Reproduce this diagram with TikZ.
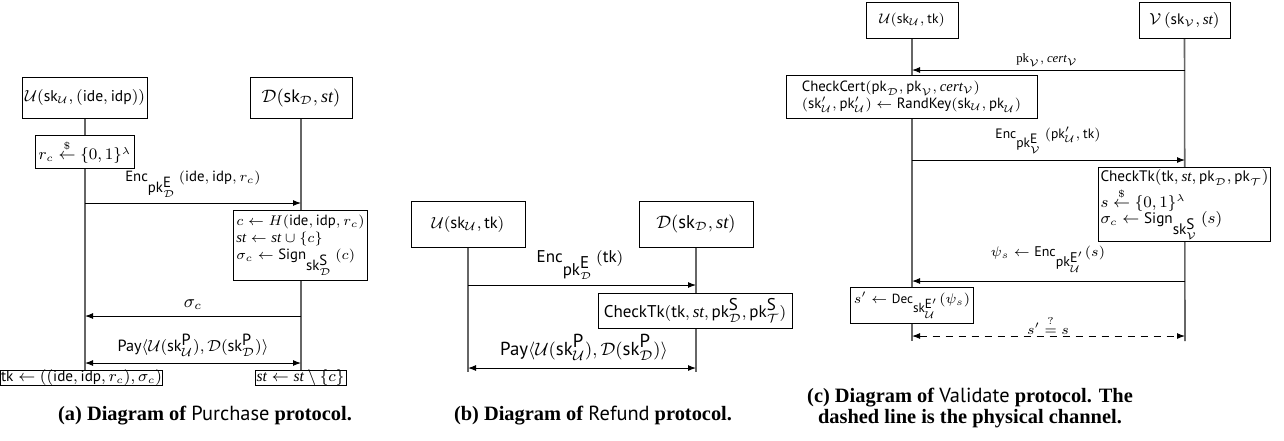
\documentclass[tikz,border=0pt]{standalone}
\usepackage{fontspec}
\setmainfont{Liberation Serif}
\setsansfont{PT Sans}
\usetikzlibrary{arrows.meta,backgrounds}
\newcommand{\sfm}[1]{\textsf{#1}}
\newcommand{\cU}{\mathcal{U}}
\newcommand{\cD}{\mathcal{D}}
\newcommand{\cV}{\mathcal{V}}
\newcommand{\cT}{\mathcal{T}}
\newcommand{\fs}[2]{\fontsize{#1}{#2}\selectfont}
\tikzset{
  actor/.style={draw, line width=0.5pt, fill=white, inner sep=1pt},
  proc/.style={draw, line width=0.5pt, fill=white, align=left, inner sep=1.5pt},
  lifeline/.style={draw=black!60, line width=0.8pt},
  msg/.style={-{Latex[length=4pt,width=3pt]}, line width=0.5pt},
  dmsg/.style={{Latex[length=4pt,width=3pt]}-{Latex[length=4pt,width=3pt]}, line width=0.5pt},
  lab/.style={inner sep=0pt},
  captext/.style={font=\fs{10.2}{10.6}, align=center, inner sep=0pt}
}
\begin{document}
\begin{tikzpicture}[x=0.5pt,y=-0.5pt]
\useasboundingbox (0,0) rectangle (1284,440);
% ---------------- (a) ----------------
\node[actor,font=\fs{7.8}{9},minimum width=62pt,minimum height=20.5pt] (aU) at (85,97.5) {$\cU(\sfm{sk}_{\cU}, (\sfm{ide}, \sfm{idp}))$};
\node[actor,font=\fs{9}{10},minimum width=51pt,minimum height=20.5pt] (aD) at (301,97.5) {$\cD(\sfm{sk}_{\cD}, \textit{st})$};
\node[proc,font=\fs{7.8}{9},minimum width=48pt,minimum height=16.5pt,align=center] (aR) at (85,152) {$r_c \stackrel{\$}{\leftarrow} \{0,1\}^{\lambda}$};
\node[proc,font=\fs{7.4}{8.5},minimum width=66.5pt,minimum height=35pt] (aC) at (300.5,245) {$c \leftarrow H(\sfm{ide}, \sfm{idp}, r_c)$\\$\textit{st} \leftarrow \textit{st} \cup \{c\}$\\$\sigma_c \leftarrow \sfm{Sign}_{\sfm{sk}^{\sfm{S}}_{\cD}}\,(c)$};
\node[proc,font=\fs{7.6}{9},minimum width=80.5pt,text height=5.2pt,text depth=1.5pt,inner sep=0.2pt] (aT) at (81.5,378) {$\sfm{tk} \leftarrow ((\sfm{ide}, \sfm{idp}, r_c), \sigma_c)$};
\node[proc,font=\fs{7.8}{9},minimum width=45.5pt,text height=5.2pt,text depth=1.5pt,inner sep=0.2pt] (aS) at (300.5,378) {$\textit{st} \leftarrow \textit{st} \setminus \{c\}$};
\coordinate (aU1) at (85,203); \coordinate (aD1) at (301,203);
\coordinate (aU2) at (85,316); \coordinate (aD2) at (301,316);
\coordinate (aU3) at (85,363); \coordinate (aD3) at (301,363);
\begin{scope}[on background layer]
\draw[lifeline] (aU.south) -- (aR.north);
\draw[lifeline] (aR.south) -- (aU.south |- aT.north);
\draw[lifeline] (aD.south) -- (aD.south |- aS.north);
\end{scope}
\node[lab,font=\fs{7.4}{9}] (aL1) at (193,184) {$\sfm{Enc}_{\sfm{pk}^{\sfm{E}}_{\cD}}\,(\sfm{ide}, \sfm{idp}, r_c)$};
\draw[msg] (aU1) -- (aD1);
\node[lab,font=\fs{8.6}{9}] (aL2) at (193,305) {$\sigma_c$};
\draw[msg] (aD2) -- (aU2);
\node[lab,font=\fs{8.1}{9}] (aL3) at (193,345) {$\sfm{Pay}\langle \cU(\sfm{sk}^{\sfm{P}}_{\cU}), \cD(\sfm{sk}^{\sfm{P}}_{\cD})\rangle$};
\draw[dmsg] (aU3) -- (aD3);
\node[captext] (aCap) at (205,416) {\textbf{(a) Diagram of} \textsf{Purchase} \textbf{protocol.}};
% ---------------- (b) ----------------
\node[actor,font=\fs{8.2}{10},minimum width=57pt,minimum height=23pt] (bU) at (468,224) {$\cU(\sfm{sk}_{\cU}, \sfm{tk})$};
\node[actor,font=\fs{9.2}{10},minimum width=57pt,minimum height=23pt] (bD) at (696,224) {$\cD(\sfm{sk}_{\cD}, \textit{st})$};
\node[proc,font=\fs{8.5}{10},minimum width=97pt,minimum height=17.5pt,inner sep=1pt] (bC) at (695,310.5) {$\sfm{CheckTk}(\sfm{tk}, \textit{st}, \sfm{pk}^{\sfm{S}}_{\cD}, \sfm{pk}^{\sfm{S}}_{\cT})$};
\coordinate (bU1) at (468,285); \coordinate (bD1) at (696,285);
\coordinate (bU2) at (468,368); \coordinate (bD2) at (696,368);
\coordinate (bUe) at (468,372); \coordinate (bDe) at (696,372);
\begin{scope}[on background layer]
\draw[lifeline] (bU.south) -- (bUe);
\draw[lifeline] (bD.south) -- (bDe);
\end{scope}
\node[lab,font=\fs{8.5}{10}] (bL1) at (580,265) {$\sfm{Enc}_{\sfm{pk}^{\sfm{E}}_{\cD}}\,(\sfm{tk})$};
\draw[msg] (bU1) -- (bD1);
\node[lab,font=\fs{9.4}{10}] (bL2) at (584,347) {$\sfm{Pay}\langle \cU(\sfm{sk}^{\sfm{P}}_{\cU}), \cD(\sfm{sk}^{\sfm{P}}_{\cD})\rangle$};
\draw[dmsg] (bU2) -- (bD2);
\node[captext] (bCap) at (593,416) {\textbf{(b) Diagram of} \textsf{Refund} \textbf{protocol.}};
% ---------------- (c) ----------------
\node[actor,font=\fs{6.8}{8},minimum width=46pt,minimum height=18pt] (cU) at (912,20) {$\cU(\sfm{sk}_{\cU}, \sfm{tk})$};
\node[actor,font=\fs{7.6}{8},minimum width=45.5pt,minimum height=18pt] (cV) at (1184.5,20) {$\cV\,(\sfm{sk}_{\cV}, \textit{st})$};
\node[proc,font=\fs{7.4}{8.5},minimum width=125.5pt,minimum height=21.5pt,inner sep=1.5pt] (cC) at (911.5,96.5) {$\sfm{CheckCert}(\sfm{pk}_{\cD}, \sfm{pk}_{\cV}, \textit{cert}_{\cV})$\\$(\sfm{sk}'_{\cU}, \sfm{pk}'_{\cU}) \leftarrow \sfm{RandKey}(\sfm{sk}_{\cU}, \sfm{pk}_{\cU})$};
\node[proc,font=\fs{7.6}{8.2},minimum width=80.5pt,minimum height=33.5pt,inner sep=1.2pt] (cK) at (1184.5,204.5) {$\sfm{CheckTk}(\sfm{tk}, \textit{st}, \sfm{pk}_{\cD}, \sfm{pk}_{\cT})$\\$s \stackrel{\$}{\leftarrow} \{0,1\}^{\lambda}$\\$\sigma_c \leftarrow \sfm{Sign}_{\sfm{sk}^{\sfm{S}}_{\cV}}\,(s)$};
\node[proc,font=\fs{6.6}{8},minimum width=56pt,minimum height=18pt,inner sep=1.5pt] (cD) at (912,305) {$s' \leftarrow \sfm{Dec}_{\sfm{sk}^{\sfm{E}'}_{\cU}}(\psi_s)$};
\coordinate (cU1) at (912,70); \coordinate (cV1) at (1185,70);
\coordinate (cU2) at (912,160); \coordinate (cV2) at (1185,160);
\coordinate (cU3) at (912,281); \coordinate (cV3) at (1185,281);
\coordinate (cU4) at (912,336); \coordinate (cV4) at (1185,336);
\coordinate (cUe) at (912,341); \coordinate (cVe) at (1185,341);
\begin{scope}[on background layer]
\draw[lifeline] (cU.south) -- (cUe);
\draw[lifeline] (cV.south) -- (cVe);
\end{scope}
\node[lab,font=\fs{6.4}{8}] (cL1) at (1047,60) {$\mathrm{pk}_{\cV}, \textit{cert}_{\cV}$};
\draw[msg] (cV1) -- (cU1);
\node[lab,font=\fs{6.8}{8}] (cL2) at (1048,140) {$\sfm{Enc}_{\sfm{pk}^{\sfm{E}}_{\cV}}\,(\sfm{pk}'_{\cU}, \sfm{tk})$};
\draw[msg] (cU2) -- (cV2);
\node[lab,font=\fs{7}{8}] (cL3) at (1048,259) {$\psi_s \leftarrow \sfm{Enc}_{\sfm{pk}^{\sfm{E}'}_{\cU}}(s)$};
\draw[msg] (cV3) -- (cU3);
\node[lab,font=\fs{7}{8}] (cL4) at (1048,325) {$s' \stackrel{?}{=} s$};
\draw[dmsg,dashed,dash pattern=on 3.5pt off 3pt] (cU4) -- (cV4);
\node[captext] (cCap) at (970,408) {\textbf{(c) Diagram of} \textsf{Validate} \textbf{protocol. The}\\\textbf{dashed line is the physical channel.}};
\end{tikzpicture}
\end{document}
